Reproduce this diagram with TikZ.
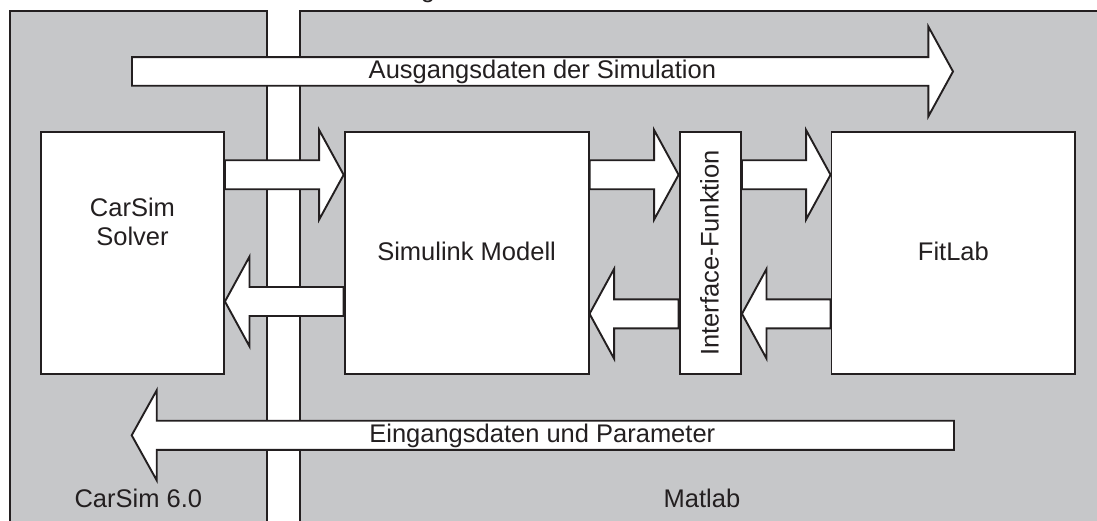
\documentclass[tikz,border=0pt]{standalone}
\usepackage{fontspec}
\setmainfont{Liberation Sans}
\usetikzlibrary{calc}
\definecolor{panelgray}{HTML}{C6C7C9}
\definecolor{ink}{HTML}{231F20}
\tikzset{
  panel/.style={draw=ink, fill=panelgray, line width=1.9pt},
  blockbox/.style={draw=ink, fill=white, line width=1.9pt, inner sep=0pt, minimum height=242pt},
  barrow/.style={draw=ink, fill=white, line width=1.9pt, line join=miter},
  lbl/.style={inner sep=0pt, anchor=base},
}
% right block arrow: from node #1 (east) to node #2 (west) at image y #3
\newcommand\arrowRight[3]{%
  \draw[barrow] ($(#1.east |- 0,#3)+(0,-14.5)$) -- ($(#2.west |- 0,#3)+(-24.5,-14.5)$)
    -- ($(#2.west |- 0,#3)+(-24.5,-44.8)$) -- (#2.west |- 0,#3)
    -- ($(#2.west |- 0,#3)+(-24.5,44.8)$) -- ($(#2.west |- 0,#3)+(-24.5,14.5)$)
    -- ($(#1.east |- 0,#3)+(0,14.5)$) -- cycle;}
% left block arrow: from node #1 (west) to node #2 (east) at image y #3
\newcommand\arrowLeft[3]{%
  \draw[barrow] ($(#1.west |- 0,#3)+(0,-14.5)$) -- ($(#2.east |- 0,#3)+(24.5,-14.5)$)
    -- ($(#2.east |- 0,#3)+(24.5,-44.8)$) -- (#2.east |- 0,#3)
    -- ($(#2.east |- 0,#3)+(24.5,44.8)$) -- ($(#2.east |- 0,#3)+(24.5,14.5)$)
    -- ($(#1.west |- 0,#3)+(0,14.5)$) -- cycle;}
\begin{document}
\begin{tikzpicture}[x=1pt, y=-1pt, font=\fontsize{25.5}{29.3}\selectfont, text=ink]
\useasboundingbox (0,0) rectangle (1097,521);
\clip (0,0) rectangle (1097,521);
\fill[white] (0,0) rectangle (1097,521);
% clipped caption fragment at the top edge
\node[lbl] (captionfrag) at (428,-2.5) {g};
% panels
\draw[panel] (9.8,11) rectangle (267,540);
\draw[panel] (299.8,11) rectangle (1120,540);
\node[lbl] (carsimlbl) at (138.3,507.4) {CarSim 6.0};
\node[lbl] (matlablbl) at (702,507.4) {Matlab};
% blocks
\node[blockbox, minimum width=183pt] (carsim) at (132.5,253.4) {};
\node[blockbox, minimum width=244pt] (simulink) at (466.6,253.4) {};
\node[blockbox, minimum width=61.5pt] (interface) at (710.3,253.4) {};
\node[blockbox, minimum width=243.8pt] (fitlab) at (953.4,253.4) {};
\node[lbl, align=center] (carsimtxt) at ($(carsim.center)+(0,-7.4)$) {CarSim\\Solver};
\node[lbl] (simulinktxt) at ($(simulink.center)+(0,6.8)$) {Simulink Modell};
\node[lbl, rotate=90] (interfacetxt) at ($(interface.center)+(8.2,-0.6)$) {Interface-Funktion};
\node[lbl] (fitlabtxt) at ($(fitlab.center)+(0,7.2)$) {FitLab};
% block arrows between blocks
\arrowRight{carsim}{simulink}{174.8}
\arrowRight{simulink}{interface}{174.8}
\arrowRight{interface}{fitlab}{174.8}
\arrowLeft{simulink}{carsim}{301.5}
\arrowLeft{interface}{simulink}{313.8}
\arrowLeft{fitlab}{interface}{313.8}
% long arrows
\coordinate (outStart) at (132,71.5);
\coordinate (outEnd) at (953,71.5);
\draw[barrow] ($(outStart)+(0,-14.3)$) -- ($(outEnd)+(-24.7,-14.3)$) -- ($(outEnd)+(-24.7,-45)$)
  -- (outEnd) -- ($(outEnd)+(-24.7,45)$) -- ($(outEnd)+(-24.7,14.3)$) -- ($(outStart)+(0,14.3)$) -- cycle;
\node[lbl] (outlbl) at (542.4,78.6) {Ausgangsdaten der Simulation};
\coordinate (inStart) at (954,435.3);
\coordinate (inEnd) at (131.7,435.3);
\draw[barrow] ($(inStart)+(0,-14.6)$) -- ($(inEnd)+(25,-14.6)$) -- ($(inEnd)+(25,-45)$)
  -- (inEnd) -- ($(inEnd)+(25,45)$) -- ($(inEnd)+(25,14.6)$) -- ($(inStart)+(0,14.6)$) -- cycle;
\node[lbl] (inlbl) at (542.3,442.5) {Eingangsdaten und Parameter};
\end{tikzpicture}
\end{document}
